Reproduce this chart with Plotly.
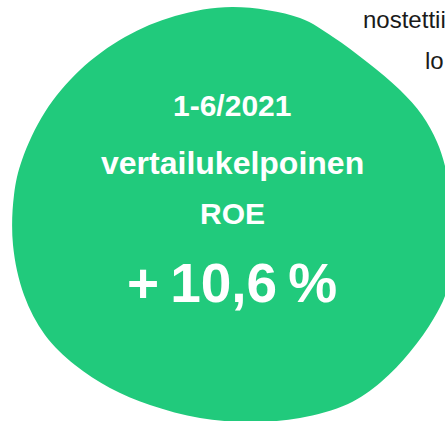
import plotly.graph_objects as go

# Blob outline (image-pixel coordinates, y downwards)
blob_x = [233, 300, 333, 367, 400, 422, 437, 446, 452, 453, 447, 434, 410, 381, 348, 300, 250, 200, 150, 110, 75, 45, 24, 13, 14, 22, 45, 80, 125, 175]
blob_y = [7, 18, 37, 62, 90, 115, 142, 170, 210, 250, 290, 318, 352, 382, 404, 418, 422, 418, 405, 388, 365, 335, 295, 245, 195, 160, 112, 70, 37, 16]

# Text content
lines = ["1-6/2021", "vertailukelpoinen", "ROE", "+\u200910,6\u2009%"]
line_y = [105, 163, 213, 283]
line_size = [30, 32, 30, 55]
side_texts = ["nostettiin", "lo"]
side_x = [361, 423]
side_y = [19, 60]

GREEN = "#21CA7C"
FONT = "Liberation Sans, Arial, sans-serif"

fig = go.Figure()
fig.add_trace(go.Scatter(
    x=blob_x + [blob_x[0]], y=blob_y + [blob_y[0]],
    mode="lines", fill="toself", fillcolor=GREEN,
    line=dict(color=GREEN, width=0, shape="spline", smoothing=1.0),
    hoverinfo="skip", showlegend=False,
))

for t, y, s in zip(lines, line_y, line_size):
    fig.add_annotation(x=232, y=y, text=f"<b>{t}</b>", showarrow=False,
                       xanchor="center", yanchor="middle",
                       font=dict(family=FONT, size=s, color="white"))

for t, x, y in zip(side_texts, side_x, side_y):
    fig.add_annotation(x=x, y=y, text=t, showarrow=False,
                       xanchor="left", yanchor="middle",
                       font=dict(family=FONT, size=24, color="#1a1a1a"))

fig.update_layout(
    width=445, height=421,
    margin=dict(l=0, r=0, t=0, b=0),
    paper_bgcolor="white", plot_bgcolor="white",
    xaxis=dict(range=[0, 445], visible=False, fixedrange=True),
    yaxis=dict(range=[421, 0], visible=False, fixedrange=True),
)

fig.write_html(
    "out.html",
    config={"displayModeBar": False},
    post_script="document.body.style.margin='0';document.body.style.overflow='hidden';",
)
